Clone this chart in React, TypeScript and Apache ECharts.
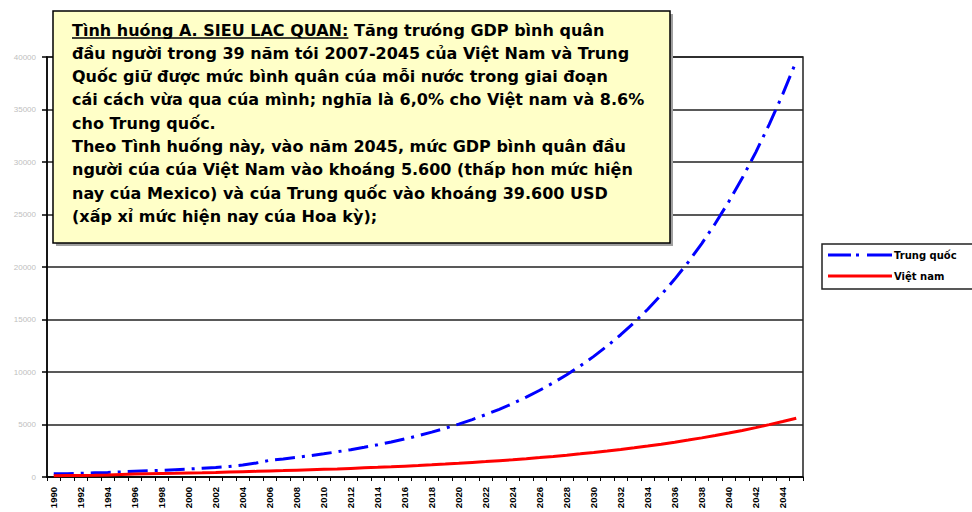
import React, { useEffect, useRef } from "react";
import * as echarts from "echarts";

const years = [
  "1990", "1991", "1992", "1993", "1994", "1995", "1996", "1997", "1998", "1999",
  "2000", "2001", "2002", "2003", "2004", "2005", "2006", "2007", "2008", "2009",
  "2010", "2011", "2012", "2013", "2014", "2015", "2016", "2017", "2018", "2019",
  "2020", "2021", "2022", "2023", "2024", "2025", "2026", "2027", "2028", "2029",
  "2030", "2031", "2032", "2033", "2034", "2035", "2036", "2037", "2038", "2039",
  "2040", "2041", "2042", "2043", "2044", "2045",
];

const trungQuoc = [
  300, 320, 360, 400, 440, 490, 540, 590, 640, 700,
  760, 830, 910, 1010, 1140, 1330, 1590, 1720, 1870, 2030,
  2210, 2400, 2600, 2830, 3070, 3330, 3620, 3930, 4270, 4640,
  5030, 5470, 5940, 6450, 7000, 7610, 8260, 8970, 9740, 10580,
  11490, 12480, 13550, 14720, 15980, 17360, 18850, 20470, 22230, 24140,
  26220, 28470, 30920, 33580, 36460, 39600,
];

const vietNam = [
  130, 140, 150, 170, 200, 240, 280, 310, 330, 350,
  380, 400, 430, 470, 510, 540, 580, 610, 650, 690,
  730, 770, 820, 870, 920, 975, 1035, 1095, 1160, 1230,
  1305, 1385, 1465, 1555, 1645, 1745, 1850, 1960, 2080, 2205,
  2335, 2475, 2625, 2785, 2950, 3125, 3315, 3515, 3725, 3950,
  4185, 4435, 4700, 4985, 5285, 5600,
];

const seriesNames = ["Trung quốc", "Việt nam"];

const titleUnderlined = "Tình huóng A. SIEU LAC QUAN:";
const titleRest = " Tăng trưóng GDP bình quân";
const noteLines = [
  "đầu người trong 39 năm tói 2007-2045 của Việt Nam và Trung",
  "Quốc giữ được mức bình quân cúa mỗi nước trong giai đoạn",
  "cái cách vừa qua cúa mình; nghĩa là 6,0% cho Việt nam và 8.6%",
  "cho Trung quốc.",
  "Theo Tình huống này, vào năm 2045, mức GDP bình quân đầu",
  "người cúa cúa Việt Nam vào khoáng 5.600 (thấp hon mức hiện",
  "nay cúa Mexico) và cúa Trung quốc vào khoáng 39.600 USD",
  "(xấp xỉ mức hiện nay cúa Hoa kỳ);",
];

const FONT = '"Liberation Sans", Arial, sans-serif';
const BOXFONT = '"DejaVu Sans", "Liberation Sans", sans-serif';

export default function App() {
  const ref = useRef<HTMLDivElement>(null);

  useEffect(() => {
    if (!ref.current) return;
    const chart = echarts.init(ref.current, undefined, { renderer: "svg" });

    const fontSize = 16;
    const fontStr = `bold ${fontSize}px ${BOXFONT}`;
    const canvas = document.createElement("canvas");
    const ctx = canvas.getContext("2d");
    let ulWidth = 285;
    if (ctx) {
      ctx.font = fontStr;
      ulWidth = ctx.measureText(titleUnderlined).width;
    }

    const textX = 72;
    const firstY = 30;
    const lineH = 23.3;
    const boxX = 53;
    const boxY = 11;
    const boxW = 617;
    const boxH = 232;

    const textEls: any[] = [];
    textEls.push({
      type: "text",
      x: textX,
      y: firstY,
      z: 102,
      style: { text: titleUnderlined, font: fontStr, fill: "#000", verticalAlign: "middle" },
    });
    textEls.push({
      type: "line",
      z: 102,
      shape: { x1: textX, y1: firstY + 8, x2: textX + ulWidth, y2: firstY + 8 },
      style: { stroke: "#000", lineWidth: 1.5 },
    });
    textEls.push({
      type: "text",
      x: textX + ulWidth,
      y: firstY,
      z: 102,
      style: { text: titleRest, font: fontStr, fill: "#000", verticalAlign: "middle" },
    });
    noteLines.forEach((t, i) => {
      textEls.push({
        type: "text",
        x: textX,
        y: firstY + lineH * (i + 1),
        z: 102,
        style: { text: t, font: fontStr, fill: "#000", verticalAlign: "middle" },
      });
    });

    const blueIcon = "path://M0,0H23V3H0Z M28,0H31V3H28Z M39,0H64V3H39Z";
    const redIcon = "path://M0,0H64V3H0Z";

    chart.setOption({
      animation: false,
      backgroundColor: "#fff",
      grid: {
        left: 47,
        right: 169,
        top: 57,
        bottom: 35,
        show: true,
        borderColor: "#222",
        borderWidth: 1.5,
        backgroundColor: "transparent",
      },
      legend: {
        orient: "vertical",
        left: 822,
        top: 244,
        itemWidth: 64,
        itemHeight: 3,
        itemGap: 11,
        padding: [6, 40, 8, 6],
        borderColor: "#222",
        borderWidth: 1.5,
        backgroundColor: "#fff",
        data: [
          { name: seriesNames[0], icon: blueIcon },
          { name: seriesNames[1], icon: redIcon },
        ],
        textStyle: {
          fontSize: 10,
          fontWeight: "bold",
          fontFamily: BOXFONT,
          color: "#000",
          padding: [0, 0, 0, -3],
        },
      },
      xAxis: {
        type: "category",
        data: years,
        boundaryGap: true,
        axisLine: { show: true, lineStyle: { color: "#000", width: 1.5 } },
        axisTick: {
          show: true,
          interval: 0,
          length: 4,
          lineStyle: { color: "#000", width: 1 },
        },
        axisLabel: {
          interval: 1,
          rotate: 90,
          fontSize: 9.5,
          fontWeight: "bold",
          fontFamily: FONT,
          color: "#000",
          margin: 10,
        },
        splitLine: { show: false },
      },
      yAxis: {
        type: "value",
        min: 0,
        max: 40000,
        interval: 5000,
        axisLine: { show: true, lineStyle: { color: "#000", width: 1.5 } },
        axisTick: {
          show: true,
          length: 5,
          lineStyle: { color: "#000", width: 1.5 },
        },
        axisLabel: {
          fontSize: 8,
          fontFamily: FONT,
          color: "#c0c0c0",
          margin: 11,
          formatter: (v: number) => String(v),
        },
        splitLine: { show: true, lineStyle: { color: "#222", width: 1.5 } },
      },
      series: [
        {
          name: seriesNames[0],
          type: "line",
          data: trungQuoc,
          symbol: "none",
          lineStyle: { color: "#0000ff", width: 3, type: [20, 7, 3, 7] },
          itemStyle: { color: "#0000ff" },
          z: 3,
        },
        {
          name: seriesNames[1],
          type: "line",
          data: vietNam,
          symbol: "none",
          lineStyle: { color: "#ff0000", width: 3, type: "solid" },
          itemStyle: { color: "#ff0000" },
          z: 3,
        },
      ],
      graphic: [
        {
          type: "rect",
          z: 100,
          shape: { x: boxX + 3, y: boxY + 3, width: boxW, height: boxH },
          style: { fill: "#a0a0a0", stroke: "none" },
        },
        {
          type: "rect",
          z: 101,
          shape: { x: boxX, y: boxY, width: boxW, height: boxH },
          style: { fill: "#ffffc8", stroke: "#000", lineWidth: 1.5 },
        },
        ...textEls,
      ],
    });

    return () => chart.dispose();
  }, []);

  return (
    <div
      ref={ref}
      style={{ position: "fixed", left: 0, top: 0, width: 972, height: 512 }}
    />
  );
}
